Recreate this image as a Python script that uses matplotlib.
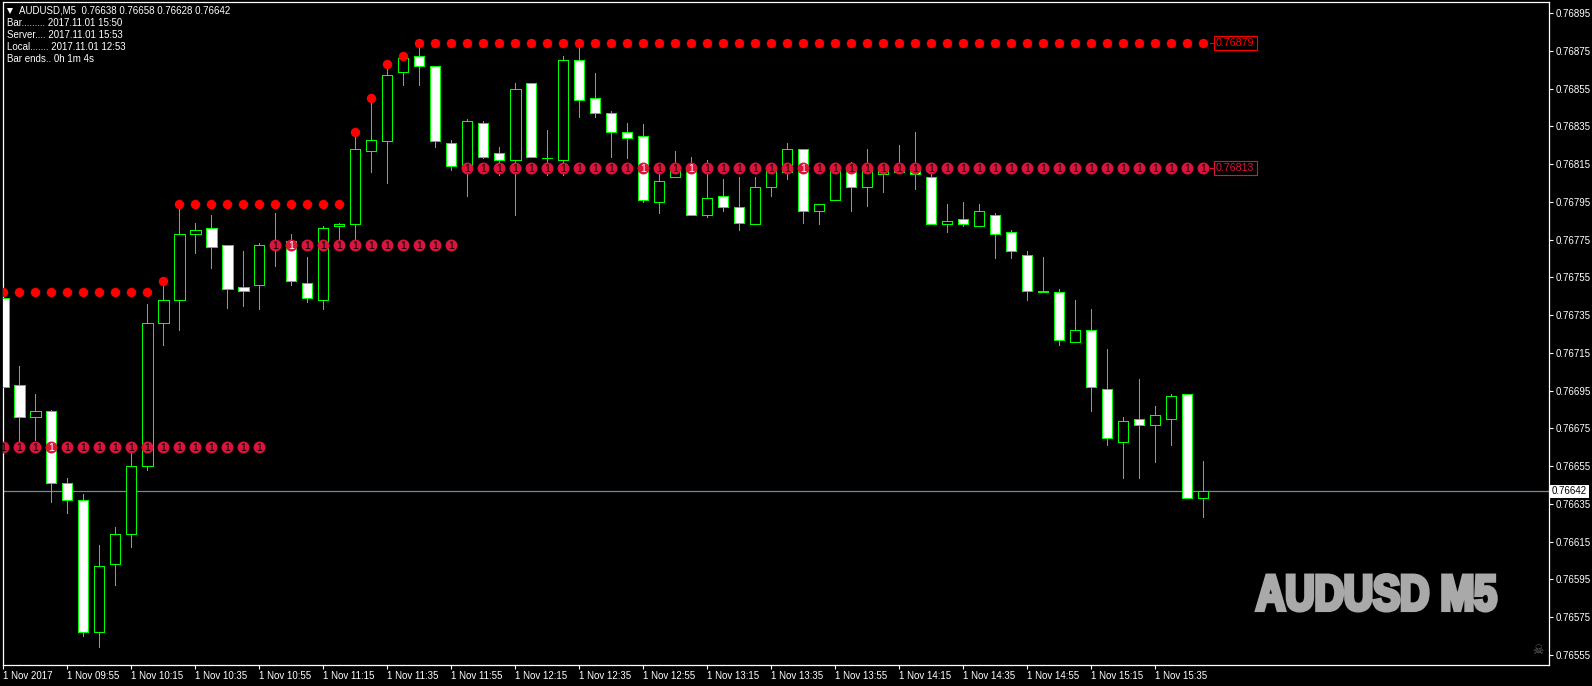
import numpy as np
import matplotlib
matplotlib.use('Agg')
import matplotlib.pyplot as plt
import matplotlib.patheffects as pe
from matplotlib.transforms import Affine2D

W, H = 1592, 686
plt.rcParams['font.family'] = ['Liberation Sans', 'DejaVu Sans']

# prices are in 1/100000, bar 0 is 09:35, one bar every 5 minutes
opens = [76744, 76698, 76681, 76684, 76646, 76637, 76567, 76603, 76619, 76655,
         76731, 76743, 76778, 76781, 76772, 76750, 76751, 76772, 76774, 76752,
         76743, 76782, 76783, 76822, 76827, 76864, 76872, 76867, 76826, 76813,
         76837, 76821, 76817, 76858, 76818, 76817, 76870, 76850, 76842, 76832,
         76830, 76795, 76808, 76814, 76788, 76798, 76792, 76783, 76803, 76811,
         76823, 76790, 76796, 76813, 76803, 76810, 76811, 76813, 76808, 76783,
         76786, 76782, 76788, 76779, 76767, 76748, 76747, 76721, 76727, 76696,
         76668, 76680, 76677, 76680, 76693, 76638]
highs = [76748, 76708, 76693, 76685, 76649, 76640, 76613, 76623, 76662, 76741,
         76753, 76794, 76784, 76788, 76772, 76769, 76773, 76789, 76778, 76766,
         76782, 76784, 76832, 76850, 76868, 76872, 76879, 76867, 76828, 76839,
         76838, 76824, 76858, 76858, 76833, 76872, 76879, 76863, 76843, 76837,
         76836, 76810, 76822, 76819, 76817, 76807, 76808, 76808, 76815, 76826,
         76823, 76794, 76815, 76816, 76823, 76812, 76825, 76832, 76810, 76794,
         76795, 76794, 76789, 76780, 76769, 76766, 76749, 76743, 76738, 76717,
         76681, 76701, 76687, 76693, 76693, 76658]
lows = [76696, 76668, 76669, 76636, 76630, 76565, 76559, 76592, 76612, 76653,
        76719, 76727, 76768, 76760, 76739, 76740, 76738, 76761, 76751, 76742,
        76738, 76772, 76771, 76811, 76805, 76857, 76857, 76824, 76812, 76798,
        76818, 76809, 76788, 76819, 76809, 76809, 76840, 76840, 76819, 76818,
        76795, 76789, 76808, 76788, 76787, 76790, 76780, 76783, 76798, 76807,
        76784, 76783, 76796, 76790, 76793, 76800, 76811, 76802, 76783, 76779,
        76782, 76782, 76765, 76765, 76743, 76747, 76719, 76721, 76684, 76666,
        76649, 76649, 76657, 76666, 76638, 76628]
closes = [76697, 76681, 76684, 76646, 76637, 76567, 76602, 76619, 76655, 76731,
          76743, 76778, 76780, 76771, 76749, 76748, 76772, 76773, 76753, 76744,
          76781, 76783, 76823, 76828, 76862, 76871, 76867, 76827, 76814, 76838,
          76819, 76817, 76855, 76819, 76818, 76870, 76849, 76842, 76832, 76829,
          76796, 76806, 76814, 76788, 76797, 76792, 76784, 76803, 76814, 76823,
          76790, 76794, 76814, 76803, 76812, 76812, 76812, 76810, 76783, 76785,
          76783, 76790, 76778, 76769, 76748, 76747, 76722, 76727, 76697, 76670,
          76679, 76677, 76682, 76692, 76638, 76642]

# (first bar, last bar, level) of the red dots and of the numbered dots
red_rows = [(0, 9, 76747), (10, 10, 76753), (11, 21, 76794), (22, 22, 76832),
            (23, 23, 76850), (24, 24, 76868), (25, 25, 76872), (26, 75, 76879)]
one_rows = [(0, 16, 76665), (17, 28, 76772), (29, 75, 76813)]

x_tick_bars = list(range(0, 73, 4))
x_tick_labels = ['1 Nov 2017', '1 Nov 09:55', '1 Nov 10:15', '1 Nov 10:35', '1 Nov 10:55',
                 '1 Nov 11:15', '1 Nov 11:35', '1 Nov 11:55', '1 Nov 12:15', '1 Nov 12:35',
                 '1 Nov 12:55', '1 Nov 13:15', '1 Nov 13:35', '1 Nov 13:55', '1 Nov 14:15',
                 '1 Nov 14:35', '1 Nov 14:55', '1 Nov 15:15', '1 Nov 15:35']
y_ticks = [0.76895, 0.76875, 0.76855, 0.76835, 0.76815, 0.76795, 0.76775, 0.76755, 0.76735,
           0.76715, 0.76695, 0.76675, 0.76655, 0.76635, 0.76615, 0.76595, 0.76575, 0.76555]
current_price = 0.76642
info_lines = ['Bar......... 2017.11.01 15:50', 'Server.... 2017.11.01 15:53',
              'Local....... 2017.11.01 12:53', 'Bar ends.. 0h 1m 4s']

GREEN = '#00ff00'
CRIMSON = '#dc143c'
FONT = 7.0


class Squeeze(pe.AbstractPathEffect):
    # no condensed heavy font here, so narrow the bold glyphs and fatten them
    def __init__(self, sx, cx, grow, color):
        super().__init__()
        self.sx, self.cx, self.grow, self.color = sx, cx, grow, color

    def draw_path(self, renderer, gc, tpath, affine, rgbFace):
        new_affine = affine + Affine2D().translate(-self.cx, 0).scale(self.sx, 1).translate(self.cx, 0)
        gc0 = renderer.new_gc()
        gc0.copy_properties(gc)
        gc0.set_linewidth(self.grow)
        gc0.set_joinstyle('miter')
        gc0.set_foreground(self.color)
        renderer.draw_path(gc0, tpath, new_affine, rgbFace)
        gc0.restore()


def pixel_text(x, y, s, **kw):
    # place text by pixel position from the top left of the picture
    kw.setdefault('color', 'white')
    kw.setdefault('fontsize', FONT)
    kw.setdefault('va', 'center')
    return fig.text(x / W, 1 - y / H, s, **kw)


fig = plt.figure(figsize=(W / 100, H / 100), dpi=100, facecolor='black')
left, right, top, bottom = 2.7, 1549.3, 2.3, 665.0
ax = fig.add_axes([left / W, 1 - bottom / H, (right - left) / W, (bottom - top) / H], facecolor='black')

# 16 px per bar, bar 0 at x=3.3 / 37.76 px per 20 points, 0.76895 at y=13
ax.set_xlim((left - 3.3) / 16, (right - 3.3) / 16)
ax.set_ylim(0.76555 - (bottom - 655) / 188800, 0.76895 + (13 - top) / 188800)

o = np.array(opens) / 1e5
h = np.array(highs) / 1e5
l = np.array(lows) / 1e5
c = np.array(closes) / 1e5
bars = np.arange(len(o))

ax.axhline(current_price, color='#778899', lw=0.9, zorder=1)
ax.vlines(bars, l, h, color=GREEN, lw=0.72, zorder=2, antialiased=False)
body_colors = ['white' if c[i] < o[i] else 'black' for i in bars]
ax.bar(bars, np.abs(c - o), bottom=np.minimum(o, c), width=0.65, color=body_colors,
       edgecolor=GREEN, linewidth=0.5, zorder=3, antialiased=False)

for first, last, level in red_rows:
    xs = np.arange(first, last + 1)
    ax.plot(xs, np.full(len(xs), level / 1e5), ls='none', marker='o', ms=6.8, color='red', mew=0, zorder=4)

for first, last, level in one_rows:
    xs = np.arange(first, last + 1)
    ax.plot(xs, np.full(len(xs), level / 1e5), ls='none', marker='o', ms=8.6, color=CRIMSON, mew=0, zorder=4)
    for i in xs:
        # the digit is a hole in the dot, a white body shows through it
        hole = 'white' if closes[i] < level < opens[i] else 'black'
        ax.text(i, level / 1e5, '1', color=hole, fontsize=7.5, ha='center', va='center_baseline', zorder=5)

# price labels at the end of the last two rows
for level, col in [(0.76879, 'red'), (0.76813, CRIMSON)]:
    ax.plot([75.4, 75.67], [level, level], color=col, lw=0.8, zorder=4)
    ax.text(75.8, level, '%.5f' % level, color=col, fontsize=7.7, ha='left', va='center', zorder=5,
            bbox=dict(boxstyle='square,pad=0.2', fc='black', ec=col, lw=0.8))

for s in ax.spines.values():
    s.set_color('white')
    s.set_linewidth(0.9)

ax.yaxis.tick_right()
ax.set_yticks(y_ticks)
ax.set_yticklabels(['%.5f' % v for v in y_ticks])
ax.set_xticks(x_tick_bars)
ax.set_xticklabels(x_tick_labels, ha='left')
ax.tick_params(axis='both', colors='white', length=3, width=0.8, labelsize=FONT)
ax.tick_params(axis='x', pad=1)
ax.tick_params(axis='y', pad=1.2)

pixel_text(1569.5, 491.3, '%.5f' % current_price, color='black', ha='center',
           bbox=dict(boxstyle='square,pad=0.18', fc='white', ec='white', lw=0))

# header block
ax.plot([9.5 / W], [1 - 10.5 / H], transform=fig.transFigure, marker='v', ms=4, color='white', mew=0, clip_on=False)
pixel_text(18.7, 10.5, 'AUDUSD,M5  0.76638 0.76658 0.76628 0.76642')
for k, line in enumerate(info_lines):
    pixel_text(7, 23.5 + k * 12, line)

wm = pixel_text(1376.5, 597, 'AUDUSD M5', color='#a9a9a9', fontsize=36, fontweight='bold', ha='center')
wm.set_path_effects([Squeeze(0.81, 1376.5, 3.0, '#a9a9a9')])
pixel_text(1538, 651, '\u2620', color='#666666', fontsize=9, family=['DejaVu Sans'], ha='center')

plt.savefig('out.png', dpi=100, facecolor='black')
